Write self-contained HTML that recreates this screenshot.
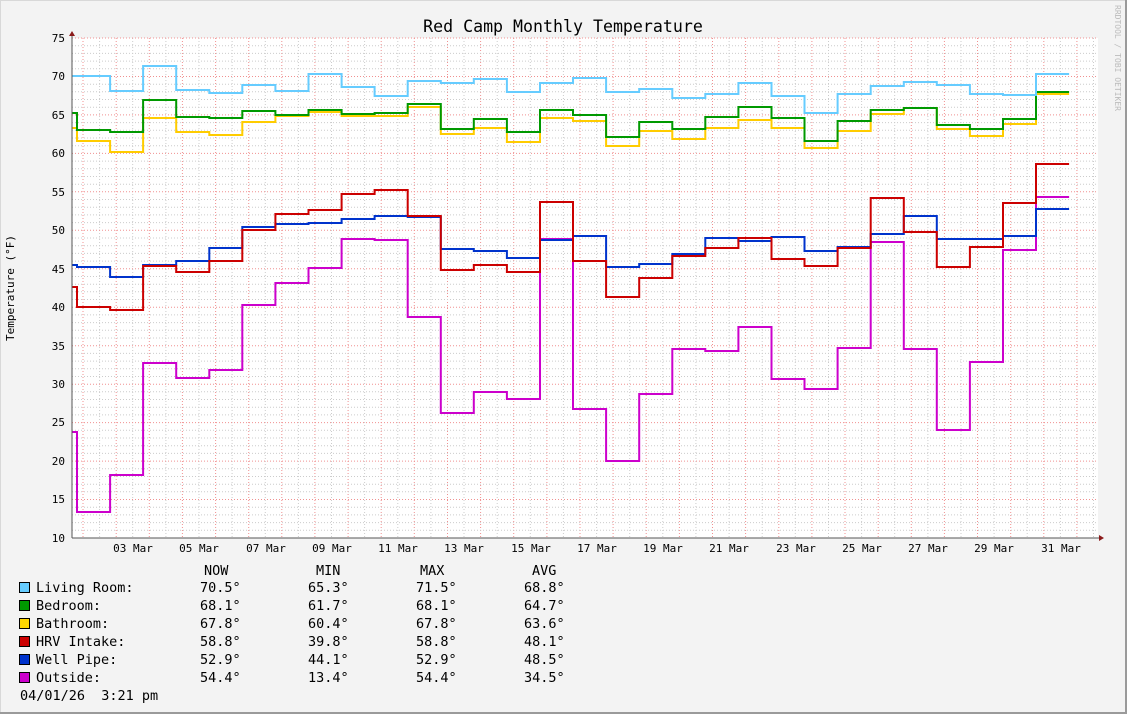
<!DOCTYPE html>
<html><head><meta charset="utf-8"><style>
html,body{margin:0;padding:0;background:#f3f3f3}
svg{display:block}
text{font-family:"DejaVu Sans Mono","Liberation Mono",monospace}
</style></head><body>
<svg id="s" width="1127" height="714" xmlns="http://www.w3.org/2000/svg">
<rect x="0" y="0" width="1127" height="714" fill="#f3f3f3"/>
<rect x="0.5" y="0.5" width="1125" height="712" fill="none" stroke="#d8d8d8"/>
<line x1="0" y1="713" x2="1127" y2="713" stroke="#9a9a9a" stroke-width="2"/>
<line x1="1126" y1="0" x2="1126" y2="714" stroke="#9a9a9a" stroke-width="2"/>
<rect x="72" y="38" width="1026" height="500" fill="#ffffff"/>
<g id="grid"></g>
<g id="lines" fill="none" stroke-width="2"></g>
<line x1="72" y1="538" x2="1100" y2="538" stroke="#555" stroke-width="1"/>
<line x1="72" y1="538" x2="72" y2="34" stroke="#555" stroke-width="1"/>
<polygon points="1099,535 1104,538 1099,541" fill="#8b1a1a"/>
<polygon points="69,36 72,31 75,36" fill="#8b1a1a"/>
<text x="563" y="32" font-size="16.6" text-anchor="middle" fill="#000">Red Camp Monthly Temperature</text>
<text transform="translate(14,288) rotate(-90)" font-size="11" text-anchor="middle" fill="#000">Temperature (°F)</text>
<text transform="translate(1115,58) rotate(90)" font-size="8" text-anchor="middle" fill="#bbb">RRDTOOL / TOBI OETIKER</text>
<g id="yl" font-size="11" text-anchor="end" fill="#000">
<text x="65" y="42">75</text><text x="65" y="80">70</text><text x="65" y="119">65</text><text x="65" y="157">60</text><text x="65" y="196">55</text><text x="65" y="234">50</text><text x="65" y="273">45</text><text x="65" y="311">40</text><text x="65" y="350">35</text><text x="65" y="388">30</text><text x="65" y="426">25</text><text x="65" y="465">20</text><text x="65" y="503">15</text><text x="65" y="542">10</text>
</g>
<g font-size="11" text-anchor="middle" fill="#000">
<text x="133" y="552">03 Mar</text><text x="199" y="552">05 Mar</text><text x="266" y="552">07 Mar</text><text x="332" y="552">09 Mar</text><text x="398" y="552">11 Mar</text><text x="464" y="552">13 Mar</text><text x="531" y="552">15 Mar</text><text x="597" y="552">17 Mar</text><text x="663" y="552">19 Mar</text><text x="729" y="552">21 Mar</text><text x="796" y="552">23 Mar</text><text x="862" y="552">25 Mar</text><text x="928" y="552">27 Mar</text><text x="994" y="552">29 Mar</text><text x="1061" y="552">31 Mar</text>
</g>
<g font-size="13.5" fill="#000">
<text x="204" y="575">NOW</text><text x="316" y="575">MIN</text><text x="420" y="575">MAX</text><text x="532" y="575">AVG</text>
<rect x="19.5" y="582.5" width="10" height="10" fill="#66ccff" stroke="#000"/>
<text x="36" y="592">Living Room:</text><text x="200" y="592">70.5°</text><text x="308" y="592">65.3°</text><text x="416" y="592">71.5°</text><text x="524" y="592">68.8°</text>
<rect x="19.5" y="600.5" width="10" height="10" fill="#009900" stroke="#000"/>
<text x="36" y="610">Bedroom:</text><text x="200" y="610">68.1°</text><text x="308" y="610">61.7°</text><text x="416" y="610">68.1°</text><text x="524" y="610">64.7°</text>
<rect x="19.5" y="618.5" width="10" height="10" fill="#ffd700" stroke="#000"/>
<text x="36" y="628">Bathroom:</text><text x="200" y="628">67.8°</text><text x="308" y="628">60.4°</text><text x="416" y="628">67.8°</text><text x="524" y="628">63.6°</text>
<rect x="19.5" y="636.5" width="10" height="10" fill="#cc0000" stroke="#000"/>
<text x="36" y="646">HRV Intake:</text><text x="200" y="646">58.8°</text><text x="308" y="646">39.8°</text><text x="416" y="646">58.8°</text><text x="524" y="646">48.1°</text>
<rect x="19.5" y="654.5" width="10" height="10" fill="#0033cc" stroke="#000"/>
<text x="36" y="664">Well Pipe:</text><text x="200" y="664">52.9°</text><text x="308" y="664">44.1°</text><text x="416" y="664">52.9°</text><text x="524" y="664">48.5°</text>
<rect x="19.5" y="672.5" width="10" height="10" fill="#cc00cc" stroke="#000"/>
<text x="36" y="682">Outside:</text><text x="200" y="682">54.4°</text><text x="308" y="682">13.4°</text><text x="416" y="682">54.4°</text><text x="524" y="682">34.5°</text>
<text x="20" y="700">04/01/26&#160; 3:21 pm</text>
</g>
</svg>
<script>
(function(){
var NS="http://www.w3.org/2000/svg";
function el(parent,tag,attrs){var e=document.createElementNS(NS,tag);for(var k in attrs)e.setAttribute(k,attrs[k]);parent.appendChild(e);return e;}
var g=document.getElementById("grid");
for(var d=1;d<=33;d++){var x=49.9+(d-1)*33.13;
 var xm=x+16.57;
 if(xm>72&&xm<1098) el(g,"line",{x1:xm.toFixed(1),y1:38,x2:xm.toFixed(1),y2:538,stroke:"#ccc","stroke-dasharray":"1,2"});
 if(x>72&&x<1098) el(g,"line",{x1:x.toFixed(1),y1:38,x2:x.toFixed(1),y2:538,stroke:"#f09090","stroke-dasharray":"1,2"});}
for(var t=10;t<=75;t++){var y=538-(t-10)*500/65;
 el(g,"line",{x1:72,y1:y.toFixed(1),x2:1098,y2:y.toFixed(1),stroke:(t%5==0?"#f09090":"#ccc"),"stroke-dasharray":"1,2"});}
var B=[72,77];for(var k=1;k<=30;k++)B.push(77+k*33.07);
var S=[
["#cc00cc",[432,512,475,363,378,370,305,283,268,239,240,317,413,392,399,239,409,461,394,349,351,327,379,389,348,242,349,430,362,250,197]],
["#0033cc",[265,267,277,265,261,248,227,224,223,219,216,217,249,251,258,240,236,267,264,254,238,241,237,251,247,234,216,239,239,236,209]],
["#cc0000",[287,307,310,266,272,261,230,214,210,194,190,216,270,265,272,202,261,297,278,256,248,238,259,266,248,198,232,267,247,203,164]],
["#ffcc00",[128,141,152,118,132,135,122,116,112,116,116,107,134,128,142,118,121,146,131,139,128,120,128,148,131,114,108,129,136,124,94]],
["#009900",[113,130,132,100,117,118,111,115,110,114,113,104,129,119,132,110,115,137,122,129,117,107,118,141,121,110,108,125,129,119,92]],
["#66ccff",[76,76,91,66,90,93,85,91,74,87,96,81,83,79,92,83,78,92,89,98,94,83,96,113,94,86,82,85,94,95,74]]
];
var L=document.getElementById("lines");
S.forEach(function(s){var p=[];for(var i=0;i<s[1].length;i++){p.push(B[i].toFixed(1)+","+s[1][i]);p.push(B[i+1].toFixed(1)+","+s[1][i]);}
 el(L,"polyline",{stroke:s[0],points:p.join(" ")});});
})();
</script>
</body></html>
